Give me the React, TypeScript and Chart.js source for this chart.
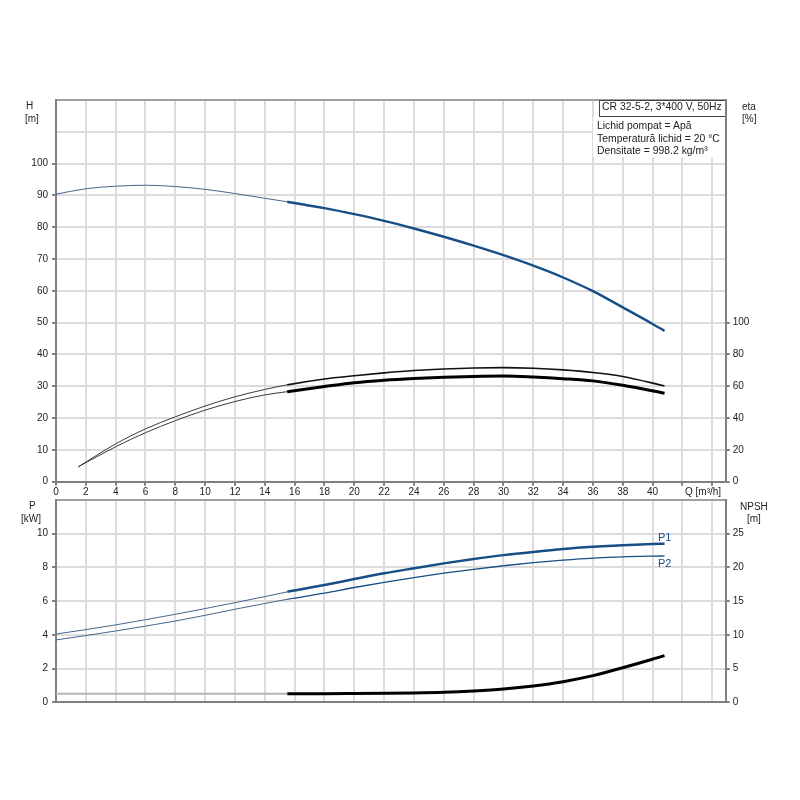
import { useEffect, useRef } from "react";
import { Chart, registerables } from "chart.js";

Chart.register(...registerables);

// flow axis, shared by both panels
const qTicks = [0, 2, 4, 6, 8, 10, 12, 14, 16, 18, 20, 22, 24, 26, 28, 30, 32, 34, 36, 38, 40, 42, 44];
const qMax = 44.9;
const hTicks = [0, 10, 20, 30, 40, 50, 60, 70, 80, 90, 100, 110, 120];
const etaTicks = [0, 20, 40, 60, 80, 100, 120, 140, 160, 180, 200, 220, 240];
const pTicks = [0, 2, 4, 6, 8, 10, 12];
const npshTicks = [0, 5, 10, 15, 20, 25, 30];

// Q where the curves switch from thin to bold (operating range)
const dutyStart = 15.5;

// head curve
const headQ = [0, 2, 4, 6, 8, 10, 12, 14, 15.5, 18, 20, 22, 24, 26, 28, 30, 32, 34, 36, 38, 40, 40.8];
const headH = [90.4, 92.1, 92.9, 93.2, 92.8, 91.9, 90.6, 89.1, 88.0, 86.0, 84.1, 82.0, 79.6, 77.0, 74.2, 71.2, 67.9, 64.2, 59.9, 54.8, 49.6, 47.4];

// efficiency curves
const etaQ = [1.5, 4, 6, 8, 10, 12, 14, 15.5, 18, 20, 22, 24, 26, 28, 30, 32, 34, 36, 38, 40.8];
const etaPump = [9.4, 23.8, 33.2, 40.8, 47.6, 53.4, 58.0, 60.9, 64.6, 66.6, 68.4, 69.9, 70.9, 71.5, 71.7, 71.3, 70.3, 68.7, 66.2, 60.2];
const etaTotal = [9.4, 22.0, 30.8, 38.4, 45.0, 50.4, 54.6, 56.6, 59.8, 62.2, 63.8, 64.9, 65.7, 66.2, 66.4, 65.8, 64.8, 63.4, 60.6, 55.6];

// power curves
const powerQ = [0, 2, 4, 6, 8, 10, 12, 14, 15.5, 18, 20, 22, 24, 26, 28, 30, 32, 34, 36, 38, 40, 40.8];
const powerP1 = [4.05, 4.31, 4.59, 4.9, 5.22, 5.56, 5.91, 6.27, 6.55, 6.96, 7.31, 7.65, 7.95, 8.24, 8.5, 8.73, 8.92, 9.09, 9.22, 9.32, 9.39, 9.41];
const powerP2 = [3.7, 3.96, 4.23, 4.52, 4.82, 5.16, 5.52, 5.86, 6.11, 6.47, 6.81, 7.12, 7.4, 7.66, 7.89, 8.1, 8.28, 8.43, 8.55, 8.63, 8.67, 8.68];

// NPSH curve
const npshQ = [15.5, 18, 20, 22, 24, 26, 28, 30, 32, 34, 36, 38, 40.8];
const npshM = [1.28, 1.28, 1.3, 1.33, 1.38, 1.48, 1.68, 1.97, 2.42, 3.06, 3.95, 5.13, 6.92];
const npshLowQ = [0, 15.5];
const npshLowM = [1.28, 1.28];

const BLUE = "#174e86";
const GRID = "#dcdcdc";
const AXIS = "#808080";
const FONT = "'Liberation Sans', Arial, sans-serif";

const pts = (xs: number[], ys: number[]) => xs.map((x, i) => ({ x, y: ys[i] }));

const curve = (data, axis, thin, bold, thinColor, boldColor) => ({
    data,
    yAxisID: axis,
    showLine: true,
    pointRadius: 0,
    pointHoverRadius: 0,
    tension: 0.4,
    cubicInterpolationMode: "monotone",
    borderColor: boldColor,
    borderWidth: bold,
    segment: {
        borderWidth: (ctx) => (ctx.p0.parsed.x >= dutyStart - 0.01 ? bold : thin),
        borderColor: (ctx) => (ctx.p0.parsed.x >= dutyStart - 0.01 ? boldColor : thinColor),
    },
});

const setTicks = (values: number[]) => (axis) => {
    axis.ticks = values.map((v) => ({ value: v }));
};

const yAxis = (position, max, values, labelMax, width, padding, gridOn) => ({
    type: "linear",
    position,
    min: 0,
    max,
    afterBuildTicks: setTicks(values),
    afterFit: (axis) => {
        axis.width = width;
    },
    border: { display: true, color: AXIS, width: 2 },
    grid: {
        drawOnChartArea: gridOn,
        color: (ctx) => (ctx.tick && ctx.tick.value === max ? "#a0a0a0" : GRID),
        lineWidth: 2,
        tickLength: 4,
        tickColor: (ctx) => (ctx.tick && ctx.tick.value <= labelMax ? AXIS : "rgba(0,0,0,0)"),
    },
    ticks: {
        padding,
        color: "#222",
        font: { size: 10, family: FONT },
        callback: (v) => (v <= labelMax ? String(v) : ""),
    },
});

const xAxis = (height, showLabels) => ({
    type: "linear",
    min: 0,
    max: qMax,
    afterBuildTicks: setTicks(qTicks),
    afterFit: (axis) => {
        axis.height = height;
    },
    border: { display: true, color: AXIS, width: 2 },
    grid: {
        color: GRID,
        lineWidth: 2,
        drawTicks: showLabels,
        tickLength: 4,
        tickColor: AXIS,
    },
    ticks: {
        display: showLabels,
        padding: 1,
        maxRotation: 0,
        autoSkip: false,
        color: "#222",
        font: { size: 10, family: FONT },
        callback: (v) => (v <= 40 ? String(v) : ""),
    },
});

const baseOptions = (padTop, scales) => ({
    responsive: false,
    animation: false,
    events: [],
    layout: { padding: { top: padTop, left: 0, right: 0, bottom: 0 } },
    plugins: { legend: { display: false }, tooltip: { enabled: false } },
    scales,
});

const label = (text, left, top, extra = {}) => (
    <div
        style={{
            position: "absolute",
            left,
            top,
            fontFamily: FONT,
            fontSize: 10,
            lineHeight: "12px",
            color: "#222",
            whiteSpace: "nowrap",
            ...extra,
        }}
    >
        {text}
    </div>
);

export default function App() {
    const topRef = useRef<HTMLCanvasElement>(null);
    const bottomRef = useRef<HTMLCanvasElement>(null);

    useEffect(() => {
        const top = new Chart(topRef.current, {
            type: "scatter",
            data: {
                datasets: [
                    curve(pts(etaQ, etaTotal), "eta", 1, 3, "#3a3a3a", "#000"),
                    curve(pts(etaQ, etaPump), "eta", 1, 1.6, "#3a3a3a", "#111"),
                    curve(pts(headQ, headH), "h", 1, 2.4, "#46668c", BLUE),
                ],
            },
            options: baseOptions(100, {
                x: xAxis(18.3, true),
                h: yAxis("left", 120, hTicks, 100, 56, 4, true),
                eta: yAxis("right", 240, etaTicks, 100, 74.3, 3, false),
            }),
        });

        const bottom = new Chart(bottomRef.current, {
            type: "scatter",
            data: {
                datasets: [
                    curve(pts(npshLowQ, npshLowM), "npsh", 2, 2, "#b4b4b4", "#b4b4b4"),
                    curve(pts(npshQ, npshM), "npsh", 3, 3, "#000", "#000"),
                    curve(pts(powerQ, powerP2), "p", 1, 1.3, "#46668c", BLUE),
                    curve(pts(powerQ, powerP1), "p", 1, 2.5, "#46668c", BLUE),
                ],
            },
            options: baseOptions(30, {
                x: xAxis(97.7, false),
                p: yAxis("left", 12, pTicks, 10, 56, 4, true),
                npsh: yAxis("right", 30, npshTicks, 25, 74.3, 3, false),
            }),
        });

        return () => {
            top.destroy();
            bottom.destroy();
        };
    }, []);

    return (
        <div style={{ position: "fixed", left: 0, top: 0, width: 800, height: 800, background: "#fff", overflow: "hidden" }}>
            <canvas ref={topRef} width={800} height={500} style={{ position: "absolute", left: 0, top: 0 }} />
            <canvas ref={bottomRef} width={800} height={330} style={{ position: "absolute", left: 0, top: 470 }} />

            {label("H", 26, 100)}
            {label("[m]", 25, 113)}
            {label("eta", 742, 101)}
            {label("[%]", 742, 113)}
            {label("P", 29, 500)}
            {label("[kW]", 21, 513)}
            {label("NPSH", 740, 501)}
            {label("[m]", 747, 513)}
            {label("Q [m³/h]", 685, 486)}

            <div style={{ position: "absolute", left: 593, top: 117, width: 132, height: 40, background: "#fff" }} />
            <div
                style={{
                    position: "absolute",
                    left: 599,
                    top: 100,
                    width: 125,
                    height: 15,
                    border: "1px solid #444",
                    borderRight: "none",
                    background: "#fff",
                }}
            />
            {label("CR 32-5-2, 3*400 V, 50Hz", 602, 101, { fontSize: 10.4 })}
            {label("Lichid pompat = Apă", 597, 120, { fontSize: 10.4 })}
            {label("Temperatură lichid = 20 °C", 597, 132.5, { fontSize: 10.4 })}
            {label("Densitate = 998.2 kg/m³", 597, 145, { fontSize: 10.4 })}

            {label("P1", 658, 531, { color: BLUE, fontSize: 11 })}
            {label("P2", 658, 557, { color: BLUE, fontSize: 11 })}
        </div>
    );
}
